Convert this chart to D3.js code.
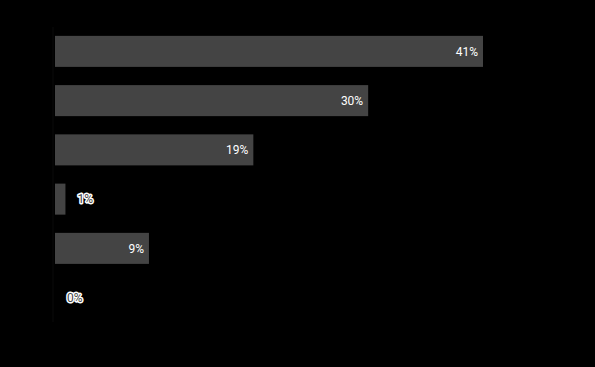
<!DOCTYPE html>
<html>
<head>
<meta charset="utf-8">
<script src="https://cdn.jsdelivr.net/npm/d3@7"></script>
<style>
    body { margin: 0; background: #000; }
    svg { display: block; }
    .bar { fill: #444; }
</style>
</head>
<body>
<div id="chart"></div>
<script>
var categories = ["a", "b", "c", "d", "e", "f"];
var values = [41, 30, 19, 1, 9, 0];

var W = 595, H = 367;
var margin = {top: 27, right: 112, bottom: 45, left: 55},
    width = W - margin.left - margin.right,
    height = H - margin.top - margin.bottom;

var data = categories.map(function (c, i) {
    return {cat: c, value: values[i]};
});

var svg = d3.select("#chart")
    .append("svg")
    .attr("width", W)
    .attr("height", H)
    .style("background", "#000")
    .append("g")
    .attr("transform", "translate(" + margin.left + "," + margin.top + ")");

var xScale = d3.scaleLinear()
    .domain([0, d3.max(values)])
    .range([0, width]);

var yScale = d3.scaleBand()
    .domain(categories)
    .range([0, height])
    .paddingInner(0.37)
    .paddingOuter(0.18);

// axis line, almost black on black
svg.append("line")
    .attr("x1", -2).attr("x2", -2)
    .attr("y1", 0).attr("y2", height)
    .attr("stroke", "#0b0b0b");

svg.selectAll(".bar")
    .data(data)
    .enter()
    .append("rect")
    .attr("class", "bar")
    .attr("x", 0)
    .attr("y", function (d) { return yScale(d.cat); })
    .attr("width", function (d) { return xScale(d.value); })
    .attr("height", yScale.bandwidth());

// labels that fit inside the bar
var inside = function (d) { return xScale(d.value) > 40; };

svg.selectAll(".lbl-in")
    .data(data.filter(inside))
    .enter()
    .append("text")
    .attr("class", "lbl-in")
    .attr("x", function (d) { return xScale(d.value) - 5; })
    .attr("y", function (d) { return yScale(d.cat) + yScale.bandwidth() / 2; })
    .attr("dy", "0.35em")
    .attr("text-anchor", "end")
    .style("font-family", "Roboto")
    .style("font-size", "12px")
    .attr("fill", "#fff")
    .text(function (d) { return d.value + "%"; });

// labels outside the bar, with a white halo
svg.selectAll(".lbl-out")
    .data(data.filter(function (d) { return !inside(d); }))
    .enter()
    .append("text")
    .attr("class", "lbl-out")
    .attr("x", function (d) { return xScale(d.value) + 12; })
    .attr("y", function (d) { return yScale(d.cat) + yScale.bandwidth() / 2; })
    .attr("dy", "0.35em")
    .attr("text-anchor", "start")
    .style("font-family", "Roboto")
    .style("font-size", "12px")
    .style("paint-order", "stroke")
    .attr("stroke", "#fff")
    .attr("stroke-width", 3)
    .attr("stroke-linejoin", "round")
    .attr("fill", "#444")
    .text(function (d) { return d.value + "%"; });
</script>
</body>
</html>
